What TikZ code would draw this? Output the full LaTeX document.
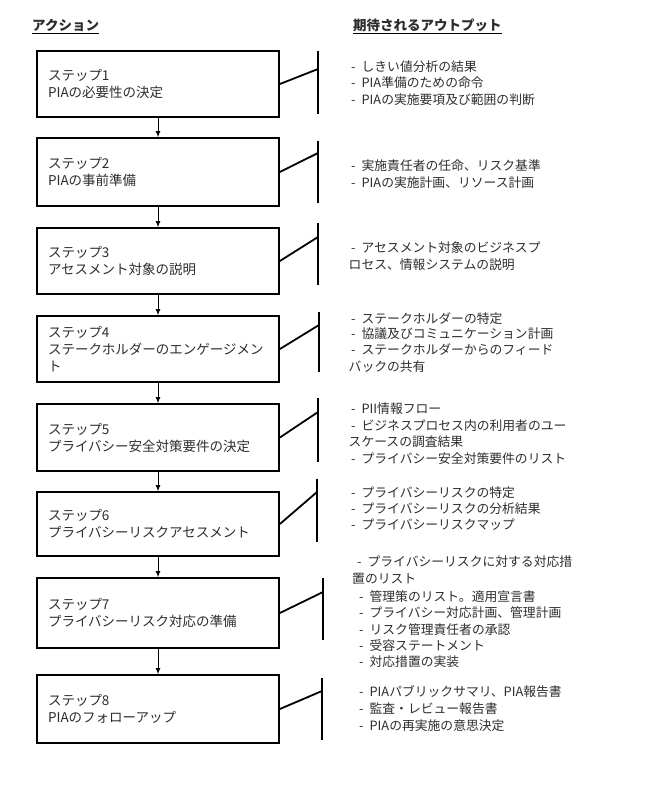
\documentclass[tikz,border=0pt]{standalone}
\usepackage{fontspec}
\setmainfont{Noto Sans CJK JP}
\usetikzlibrary{arrows.meta}
\newcommand\dsh{-\hspace{6pt}}
\definecolor{txt}{RGB}{45,45,45}
\begin{document}
\begin{tikzpicture}[x=1pt,y=-1pt,
  stepbox/.style={draw, line width=1.8pt, minimum width=242pt, inner xsep=11pt, inner ysep=0pt,
    text width=220pt, align=left, text=txt, font=\fontsize{13.5}{17}\selectfont},
  flow/.style={-{Latex[length=6pt,width=5pt]}, line width=0.9pt},
  bar/.style={line width=2.6pt},
  link/.style={line width=1.8pt},
  outtext/.style={anchor=base west, yshift=-4.9pt, inner sep=0pt, text=txt, font=\fontsize{12.8}{14}\selectfont},
  head/.style={anchor=base west, inner sep=0pt, text=txt, font=\fontsize{13.5}{15}\selectfont\bfseries}
]
\useasboundingbox (0,0) rectangle (650,804);
% headings
\node[head] (h1) at (32,30) {アクション};
\node[head] (h2) at (353,30) {期待されるアウトプット};
\draw[line width=0.9pt] ([yshift=-3pt]h1.base west) -- ([yshift=-3pt]h1.base east);
\draw[line width=0.9pt] ([yshift=-3pt]h2.base west) -- ([yshift=-3pt]h2.base east);
% step boxes
\node[stepbox, minimum height=66pt] (b1) at (158,84) {ステップ1\\PIAの必要性の決定};
\node[stepbox, minimum height=68pt] (b2) at (158,172) {ステップ2\\PIAの事前準備};
\node[stepbox, minimum height=66pt] (b3) at (158,261) {ステップ3\\アセスメント対象の説明};
\node[stepbox, minimum height=66pt] (b4) at (158,349) {ステップ4\\ステークホルダーのエンゲージメン\\ト};
\node[stepbox, minimum height=67pt] (b5) at (158,437.5) {ステップ5\\プライバシー安全対策要件の決定};
\node[stepbox, minimum height=64pt] (b6) at (158,524) {ステップ6\\プライバシーリスクアセスメント};
\node[stepbox, minimum height=70pt] (b7) at (158,613) {ステップ7\\プライバシーリスク対応の準備};
\node[stepbox, minimum height=68pt] (b8) at (158,709) {ステップ8\\PIAのフォローアップ};
% flow arrows
\foreach \a/\b in {b1/b2,b2/b3,b3/b4,b4/b5,b5/b6,b6/b7,b7/b8}
  \draw[flow] (\a.south) -- (\b.north);
% bars and links
\foreach \i/\x/\t/\u/\c in {1/318/51/114/69, 2/318/141/203/153, 3/318/223/285/237,
  4/319/312/372/325, 5/318/398/462/412, 6/317/479/542/492, 7/323/578/640/592, 8/322/678/740/691}{
  \coordinate (t\i) at (\x,\t);
  \coordinate (u\i) at (\x,\u);
  \coordinate (c\i) at (\x,\c);
  \draw[bar] (t\i) -- (u\i);
  \draw[link] (b\i.east) -- (c\i);
}
% outputs
\node[outtext] (o1a) at (351,66.7) {\dsh しきい値分析の結果};
\node[outtext] (o1b) at (351,82.7) {\dsh PIA準備のための命令};
\node[outtext] (o1c) at (351,100) {\dsh PIAの実施要項及び範囲の判断};
\node[outtext] (o2a) at (351,165.7) {\dsh 実施責任者の任命、リスク基準};
\node[outtext] (o2b) at (351,182.7) {\dsh PIAの実施計画、リソース計画};
\node[outtext] (o3a) at (351,247.7) {\dsh アセスメント対象のビジネスプ};
\node[outtext] (o3b) at (348.5,264.3) {ロセス、情報システムの説明};
\node[outtext] (o4a) at (351,318.3) {\dsh ステークホルダーの特定};
\node[outtext] (o4b) at (351,333.3) {\dsh 協議及びコミュニケーション計画};
\node[outtext] (o4c) at (351,350) {\dsh ステークホルダーからのフィード};
\node[outtext] (o4d) at (348.5,366.7) {バックの共有};
\node[outtext] (o5a) at (351,408.3) {\dsh PII情報フロー};
\node[outtext] (o5b) at (351,425.7) {\dsh ビジネスプロセス内の利用者のユー};
\node[outtext] (o5c) at (348.5,441.7) {スケースの調査結果};
\node[outtext] (o5d) at (351,459) {\dsh プライバシー安全対策要件のリスト};
\node[outtext] (o6a) at (351,492.7) {\dsh プライバシーリスクの特定};
\node[outtext] (o6b) at (351,508.3) {\dsh プライバシーリスクの分析結果};
\node[outtext] (o6c) at (351,525) {\dsh プライバシーリスクマップ};
\node[outtext] (o7a) at (357,562) {\dsh プライバシーリスクに対する対応措};
\node[outtext] (o7b) at (352,579) {置のリスト};
\node[outtext] (o7c) at (359,597) {\dsh 管理策のリスト。適用宣言書};
\node[outtext] (o7d) at (359,613) {\dsh プライバシー対応計画、管理計画};
\node[outtext] (o7e) at (359,629.5) {\dsh リスク管理責任者の承認};
\node[outtext] (o7f) at (359,646) {\dsh 受容ステートメント};
\node[outtext] (o7g) at (359,662) {\dsh 対応措置の実装};
\node[outtext] (o8a) at (359,691.7) {\dsh PIAパブリックサマリ、PIA報告書};
\node[outtext] (o8b) at (359,709) {\dsh 監査・レビュー報告書};
\node[outtext] (o8c) at (359,726) {\dsh PIAの再実施の意思決定};
\end{tikzpicture}
\end{document}
